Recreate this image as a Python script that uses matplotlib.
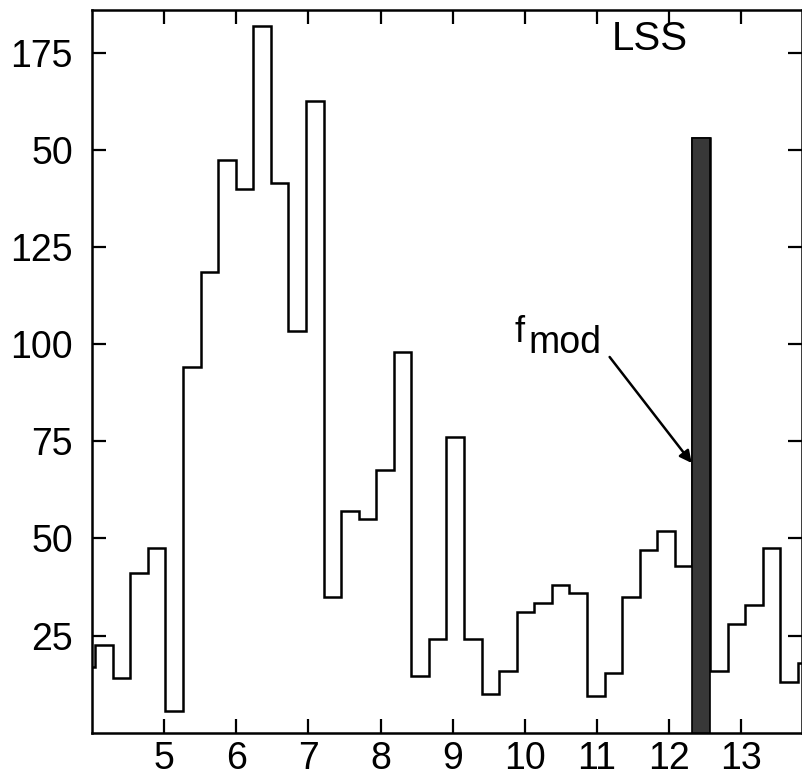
import numpy as np
import matplotlib
matplotlib.use("Agg")
import matplotlib.pyplot as plt

plt.rcParams["font.family"] = ["Liberation Sans", "DejaVu Sans"]

# histogram counts, one per bin (first and last bins are cut by the frame)
bin_start = 3.796
bin_width = 0.2438
counts = [17, 22.5, 14, 41, 47.5, 5.5, 94, 118.5, 147.5, 140, 182, 141.5,
          103.5, 162.5, 35, 57, 55, 67.5, 98, 14.5, 24, 76, 24, 10, 16, 31,
          33.5, 38, 36, 9.5, 15.5, 35, 47, 52, 43, 153, 16, 28, 33, 47.5,
          13, 18]
fmod_bin = 35  # bin holding the modulation frequency

xticks = [5, 6, 7, 8, 9, 10, 11, 12, 13]
yticks = [25, 50, 75, 100, 125, 150, 175]
ytick_labels = ["25", "50", "75", "100", "125", "50", "175"]

edges = bin_start + bin_width * np.arange(len(counts) + 1)

fig = plt.figure(figsize=(8.02, 7.8), dpi=100)
ax = fig.add_axes([0.1151, 0.0606, 0.8849, 0.9266])

ax.stairs(counts, edges, baseline=None, color="black", lw=1.8)
ax.bar(edges[fmod_bin], counts[fmod_bin], width=bin_width, align="edge",
       color="#383838", edgecolor="black", lw=1.2, zorder=3)

ax.set_xlim(4.0, 13.85)
ax.set_ylim(0, 186)
ax.set_xticks(xticks)
ax.set_xticklabels([str(t) for t in xticks])
ax.set_yticks(yticks)
ax.set_yticklabels(ytick_labels)

ax.tick_params(direction="in", length=10, width=1.6, labelsize=27,
               top=True, right=True)
ax.tick_params(axis="y", pad=14)
ax.tick_params(axis="x", pad=6)
for sp in ax.spines.values():
    sp.set_linewidth(1.8)

ax.text(11.21, 175.6, "LSS", fontsize=29, ha="left", va="baseline")

# f_mod label with arrow to the bar
ax.text(9.854, 100.5, "f", fontsize=26, ha="left", va="baseline")
ax.text(10.06, 97.7, "mod", fontsize=27, ha="left", va="baseline")
ax.annotate("", xy=(12.32, 69.4), xytext=(11.18, 96.7),
            arrowprops=dict(arrowstyle="-|>", color="black", lw=1.8,
                            mutation_scale=18, shrinkA=0, shrinkB=0))

fig.savefig("out.png", dpi=100)
